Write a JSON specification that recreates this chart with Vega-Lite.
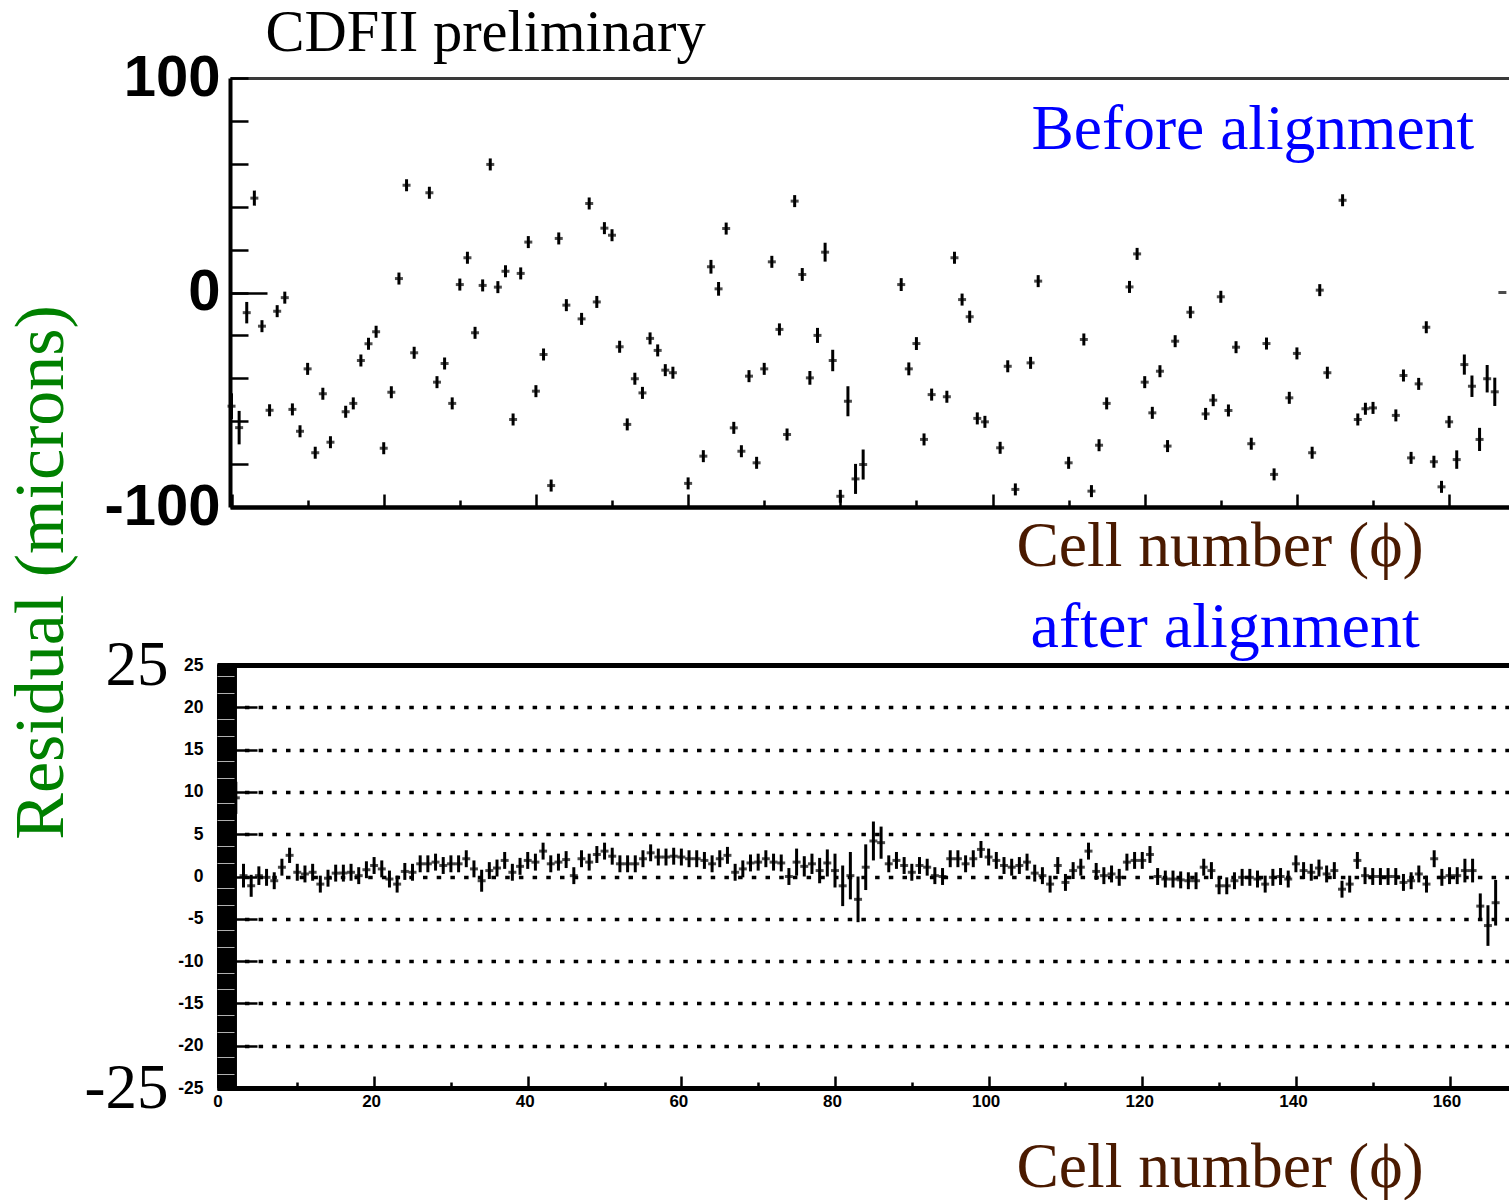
{
  "$schema": "https://vega.github.io/schema/vega-lite/v6.json",
  "width": 1292,
  "height": 1010,
  "autosize": "none",
  "padding": {"left": 217, "top": 78, "right": 0, "bottom": 112},
  "background": "white",
  "config": {
    "view": {"stroke": null},
    "axis": {"labelFont": "Liberation Sans", "labelFontWeight": "bold", "labelColor": "black", "domainColor": "black", "tickColor": "black", "grid": false, "titleColor": "black"}
  },
  "datasets": {
    "before": [{"cell":0,"res":-53,"err":6},{"cell":1,"res":-63,"err":7.8},{"cell":2,"res":-9.4,"err":5},{"cell":3,"res":44,"err":3.5},{"cell":4,"res":-15.7,"err":2.8},{"cell":5,"res":-54.9,"err":2.8},{"cell":6,"res":-8.7,"err":2.8},{"cell":7,"res":-2.4,"err":2.8},{"cell":8,"res":-54.5,"err":2.8},{"cell":9,"res":-64.7,"err":2.8},{"cell":10,"res":-35.6,"err":2.8},{"cell":11,"res":-74.7,"err":2.8},{"cell":12,"res":-47.2,"err":2.8},{"cell":13,"res":-69.8,"err":2.8},{"cell":15,"res":-55.6,"err":2.8},{"cell":16,"res":-51.7,"err":2.8},{"cell":17,"res":-31.7,"err":2.8},{"cell":18,"res":-23.9,"err":2.8},{"cell":19,"res":-18.3,"err":2.8},{"cell":20,"res":-72.6,"err":2.8},{"cell":21,"res":-46.5,"err":2.8},{"cell":22,"res":6.5,"err":2.8},{"cell":23,"res":50,"err":2.8},{"cell":24,"res":-28.1,"err":2.8},{"cell":26,"res":46.5,"err":2.8},{"cell":27,"res":-41.8,"err":2.8},{"cell":28,"res":-33.1,"err":2.8},{"cell":29,"res":-51.7,"err":2.8},{"cell":30,"res":3.7,"err":2.8},{"cell":31,"res":16.2,"err":2.8},{"cell":32,"res":-18.8,"err":2.8},{"cell":33,"res":3.3,"err":2.8},{"cell":34,"res":59.7,"err":2.8},{"cell":35,"res":2.5,"err":2.8},{"cell":36,"res":9.9,"err":2.8},{"cell":37,"res":-59.2,"err":2.8},{"cell":38,"res":8.9,"err":2.8},{"cell":39,"res":23.5,"err":2.8},{"cell":40,"res":-46,"err":2.8},{"cell":41,"res":-28.9,"err":2.8},{"cell":42,"res":-90,"err":2.8},{"cell":43,"res":25.2,"err":2.8},{"cell":44,"res":-5.9,"err":2.8},{"cell":46,"res":-12.3,"err":2.8},{"cell":47,"res":41.5,"err":2.8},{"cell":48,"res":-4.4,"err":2.8},{"cell":49,"res":30,"err":2.8},{"cell":50,"res":26.7,"err":2.8},{"cell":51,"res":-25.3,"err":2.8},{"cell":52,"res":-61.5,"err":2.8},{"cell":53,"res":-40.2,"err":2.8},{"cell":54,"res":-46.8,"err":2.8},{"cell":55,"res":-21.4,"err":2.8},{"cell":56,"res":-27,"err":2.8},{"cell":57,"res":-36.2,"err":2.8},{"cell":58,"res":-37.4,"err":2.8},{"cell":60,"res":-89,"err":2.8},{"cell":62,"res":-76.3,"err":2.8},{"cell":63,"res":12,"err":3.2},{"cell":64,"res":1.7,"err":3.2},{"cell":65,"res":29.8,"err":2.8},{"cell":66,"res":-63.1,"err":2.8},{"cell":67,"res":-74,"err":2.8},{"cell":68,"res":-39,"err":2.8},{"cell":69,"res":-79.4,"err":2.8},{"cell":70,"res":-35.6,"err":2.8},{"cell":71,"res":14.3,"err":2.8},{"cell":72,"res":-17.2,"err":2.8},{"cell":73,"res":-66.2,"err":2.8},{"cell":74,"res":42.6,"err":2.8},{"cell":75,"res":8.4,"err":3},{"cell":76,"res":-39.8,"err":3.2},{"cell":77,"res":-20,"err":3.5},{"cell":78,"res":18.8,"err":4.4},{"cell":79,"res":-31.7,"err":5},{"cell":80,"res":-95,"err":3},{"cell":81,"res":-50.7,"err":7},{"cell":82,"res":-86.9,"err":7},{"cell":83,"res":-80.2,"err":7},{"cell":88,"res":3.7,"err":3},{"cell":89,"res":-35.6,"err":3},{"cell":90,"res":-23.8,"err":3},{"cell":91,"res":-68.5,"err":2.8},{"cell":92,"res":-47.6,"err":2.8},{"cell":94,"res":-48.6,"err":2.8},{"cell":95,"res":16.2,"err":2.8},{"cell":96,"res":-3.3,"err":2.8},{"cell":97,"res":-11.3,"err":2.8},{"cell":98,"res":-58.7,"err":2.8},{"cell":99,"res":-60.3,"err":2.8},{"cell":101,"res":-72.4,"err":2.8},{"cell":102,"res":-34.4,"err":2.8},{"cell":103,"res":-91.8,"err":2.8},{"cell":105,"res":-32.8,"err":2.8},{"cell":106,"res":5.3,"err":2.8},{"cell":110,"res":-79.4,"err":2.8},{"cell":112,"res":-21.9,"err":2.8},{"cell":113,"res":-92.6,"err":2.8},{"cell":114,"res":-71.2,"err":2.8},{"cell":115,"res":-51.7,"err":2.8},{"cell":118,"res":2.6,"err":2.8},{"cell":119,"res":18,"err":2.8},{"cell":120,"res":-41.8,"err":2.8},{"cell":121,"res":-56.1,"err":2.8},{"cell":122,"res":-36.7,"err":2.8},{"cell":123,"res":-71.6,"err":2.8},{"cell":124,"res":-22.7,"err":2.8},{"cell":126,"res":-9.2,"err":2.8},{"cell":128,"res":-56.6,"err":2.8},{"cell":129,"res":-50.2,"err":2.8},{"cell":130,"res":-2,"err":2.8},{"cell":131,"res":-55,"err":2.8},{"cell":132,"res":-25.5,"err":2.8},{"cell":134,"res":-70.5,"err":2.8},{"cell":136,"res":-23.8,"err":2.8},{"cell":137,"res":-84.8,"err":2.8},{"cell":139,"res":-49.1,"err":2.8},{"cell":140,"res":-28.4,"err":2.8},{"cell":142,"res":-74.7,"err":2.8},{"cell":143,"res":1.1,"err":2.8},{"cell":144,"res":-37.4,"err":2.8},{"cell":146,"res":43,"err":2.8},{"cell":148,"res":-59.2,"err":2.8},{"cell":149,"res":-54.2,"err":2.8},{"cell":150,"res":-53.8,"err":2.8},{"cell":153,"res":-57.3,"err":2.8},{"cell":154,"res":-38.7,"err":2.8},{"cell":155,"res":-77.1,"err":2.8},{"cell":156,"res":-42.6,"err":2.8},{"cell":157,"res":-16.2,"err":2.8},{"cell":158,"res":-78.9,"err":2.8},{"cell":159,"res":-90.6,"err":2.8},{"cell":160,"res":-60.3,"err":2.8},{"cell":161,"res":-77.9,"err":4.3},{"cell":162,"res":-33.6,"err":4.7},{"cell":163,"res":-43.7,"err":5},{"cell":164,"res":-68.5,"err":5.4},{"cell":165,"res":-40.2,"err":6.4},{"cell":166,"res":-46.3,"err":6.6},{"cell":167,"res":0,"err":0}],
    "after": [{"cell":2,"res":9.3,"err":1.9},{"cell":3,"res":0.1,"err":1.4},{"cell":4,"res":-1.1,"err":1.3},{"cell":5,"res":0.1,"err":1.1},{"cell":6,"res":-0.1,"err":1},{"cell":7,"res":-0.5,"err":1},{"cell":8,"res":1.1,"err":1},{"cell":9,"res":2.5,"err":0.9},{"cell":10,"res":0.5,"err":1},{"cell":11,"res":0.3,"err":1},{"cell":12,"res":0.5,"err":1},{"cell":13,"res":-0.9,"err":1},{"cell":14,"res":-0.2,"err":1},{"cell":15,"res":0.4,"err":1},{"cell":16,"res":0.4,"err":1},{"cell":17,"res":0.5,"err":1},{"cell":18,"res":0.1,"err":1},{"cell":19,"res":0.8,"err":1},{"cell":20,"res":1.3,"err":1},{"cell":21,"res":0.9,"err":1},{"cell":22,"res":-0.3,"err":1},{"cell":23,"res":-0.9,"err":1},{"cell":24,"res":0.6,"err":1},{"cell":25,"res":0.5,"err":1},{"cell":26,"res":1.5,"err":1},{"cell":27,"res":1.5,"err":1},{"cell":28,"res":1.7,"err":1},{"cell":29,"res":1.3,"err":1},{"cell":30,"res":1.5,"err":1},{"cell":31,"res":1.5,"err":1},{"cell":32,"res":2.1,"err":1},{"cell":33,"res":0.9,"err":1},{"cell":34,"res":-0.5,"err":1.3},{"cell":35,"res":0.7,"err":1},{"cell":36,"res":1,"err":1},{"cell":37,"res":1.9,"err":1},{"cell":38,"res":0.5,"err":1},{"cell":39,"res":1.2,"err":1},{"cell":40,"res":1.9,"err":1},{"cell":41,"res":1.7,"err":1},{"cell":42,"res":3,"err":1},{"cell":43,"res":1.5,"err":1},{"cell":44,"res":1.7,"err":1},{"cell":45,"res":2,"err":1},{"cell":46,"res":0.1,"err":1},{"cell":47,"res":2.1,"err":1},{"cell":48,"res":1.7,"err":1},{"cell":49,"res":2.6,"err":1},{"cell":50,"res":3,"err":1},{"cell":51,"res":2.4,"err":1},{"cell":52,"res":1.5,"err":1},{"cell":53,"res":1.5,"err":1},{"cell":54,"res":1.5,"err":1},{"cell":55,"res":2.1,"err":1},{"cell":56,"res":2.8,"err":1},{"cell":57,"res":2.3,"err":1},{"cell":58,"res":2.3,"err":1},{"cell":59,"res":2.4,"err":1},{"cell":60,"res":2.3,"err":1},{"cell":61,"res":2.1,"err":1},{"cell":62,"res":2.1,"err":1},{"cell":63,"res":1.9,"err":1},{"cell":64,"res":1.5,"err":1},{"cell":65,"res":2.1,"err":1},{"cell":66,"res":2.5,"err":1},{"cell":67,"res":0.5,"err":1},{"cell":68,"res":0.9,"err":1},{"cell":69,"res":1.6,"err":1},{"cell":70,"res":1.7,"err":1},{"cell":71,"res":2.1,"err":1},{"cell":72,"res":1.7,"err":1},{"cell":73,"res":1.6,"err":1},{"cell":74,"res":0,"err":1},{"cell":75,"res":1.7,"err":1.6},{"cell":76,"res":1.2,"err":1.2},{"cell":77,"res":1.5,"err":1.2},{"cell":78,"res":0.7,"err":1.5},{"cell":79,"res":1.6,"err":1.6},{"cell":80,"res":0.7,"err":2},{"cell":81,"res":-1.1,"err":2.4},{"cell":82,"res":0.1,"err":2.8},{"cell":83,"res":-2.7,"err":2.7},{"cell":84,"res":1.1,"err":2.7},{"cell":85,"res":4.2,"err":2.3},{"cell":86,"res":4,"err":1.9},{"cell":87,"res":1.5,"err":1},{"cell":88,"res":1.9,"err":1},{"cell":89,"res":1.3,"err":1},{"cell":90,"res":0.5,"err":1},{"cell":91,"res":1.3,"err":1},{"cell":92,"res":1.1,"err":1},{"cell":93,"res":0.1,"err":1},{"cell":94,"res":0,"err":1},{"cell":95,"res":2.1,"err":1},{"cell":96,"res":2.1,"err":1},{"cell":97,"res":1.5,"err":1},{"cell":98,"res":2.1,"err":1},{"cell":99,"res":3.2,"err":1},{"cell":100,"res":2.3,"err":1},{"cell":101,"res":1.9,"err":1},{"cell":102,"res":1.3,"err":1},{"cell":103,"res":1.1,"err":1},{"cell":104,"res":1.3,"err":1},{"cell":105,"res":1.7,"err":1},{"cell":106,"res":0.4,"err":1},{"cell":107,"res":0.1,"err":1},{"cell":108,"res":-0.9,"err":1},{"cell":109,"res":1.3,"err":1},{"cell":110,"res":-0.7,"err":1},{"cell":111,"res":0.7,"err":1},{"cell":112,"res":1.1,"err":1},{"cell":113,"res":3,"err":1},{"cell":114,"res":0.6,"err":1},{"cell":115,"res":0.1,"err":1},{"cell":116,"res":0.3,"err":1},{"cell":117,"res":-0.1,"err":1},{"cell":118,"res":1.7,"err":1},{"cell":119,"res":1.9,"err":1},{"cell":120,"res":1.9,"err":1},{"cell":121,"res":2.6,"err":1},{"cell":122,"res":0,"err":1},{"cell":123,"res":-0.3,"err":1},{"cell":124,"res":-0.3,"err":1},{"cell":125,"res":-0.4,"err":1},{"cell":126,"res":-0.5,"err":1},{"cell":127,"res":-0.5,"err":1},{"cell":128,"res":1.1,"err":1},{"cell":129,"res":0.7,"err":1},{"cell":130,"res":-1.1,"err":1},{"cell":131,"res":-1.1,"err":1},{"cell":132,"res":-0.5,"err":1},{"cell":133,"res":-0.1,"err":1},{"cell":134,"res":-0.1,"err":1},{"cell":135,"res":-0.3,"err":1},{"cell":136,"res":-0.9,"err":1},{"cell":137,"res":-0.1,"err":1},{"cell":138,"res":0,"err":1},{"cell":139,"res":-0.3,"err":1},{"cell":140,"res":1.5,"err":1},{"cell":141,"res":0.7,"err":1},{"cell":142,"res":0.5,"err":1},{"cell":143,"res":1,"err":1},{"cell":144,"res":0.3,"err":1},{"cell":145,"res":0.7,"err":1},{"cell":146,"res":-1.5,"err":1},{"cell":147,"res":-0.9,"err":1},{"cell":148,"res":1.9,"err":1},{"cell":149,"res":0.1,"err":1},{"cell":150,"res":0,"err":1},{"cell":151,"res":0,"err":1},{"cell":152,"res":0,"err":1},{"cell":153,"res":0,"err":1},{"cell":154,"res":-0.7,"err":1},{"cell":155,"res":-0.5,"err":1},{"cell":156,"res":0.3,"err":1},{"cell":157,"res":-0.9,"err":1},{"cell":158,"res":2.1,"err":1},{"cell":159,"res":-0.1,"err":1},{"cell":160,"res":0.1,"err":1},{"cell":161,"res":0.1,"err":1},{"cell":162,"res":0.7,"err":1.4},{"cell":163,"res":0.7,"err":1.4},{"cell":164,"res":-3.5,"err":1.5},{"cell":165,"res":-5.8,"err":2.4},{"cell":166,"res":-3.1,"err":2.7}]
  },
  "layer": [
    {
      "data": {"name": "before"},
      "layer": [
        {
          "mark": {"type": "errorbar", "color": "black", "thickness": 3},
          "encoding": {
            "x": {"field": "cell", "type": "quantitative",
              "scale": {"domain": [-0.2, 168], "range": [13, 1293], "nice": false, "zero": false},
              "axis": {"orient": "bottom", "offset": -581, "values": [0,5,10,15,20,25,30,35,40,45,50,55,60,65,70,75,80,85,90,95,100,105,110,115,120,125,130,135,140,145,150,155,160,165],
                "labels": false, "tickSize": {"condition": {"test": "datum.value % 20 === 0", "value": -13}, "value": -7}, "tickWidth": 2.5, "domainWidth": 4.5,
                "title": "Cell number (ϕ)", "titleFont": "Liberation Serif", "titleFontSize": 63.5, "titleFontWeight": "normal", "titleColor": "#4a1a00",
                "titleX": 799, "titleY": 58, "titleAlign": "left", "titleBaseline": "alphabetic", "titleAngle": 0}},
            "y": {"field": "res", "type": "quantitative",
              "scale": {"domain": [-100, 100], "range": [429, 0], "nice": false, "zero": false},
              "axis": {"orient": "left", "offset": -13, "values": [-100,-80,-60,-40,-20,0,20,40,60,80,100],
                "labelExpr": "datum.value === 100 ? '100' : datum.value === 0 ? '0' : datum.value === -100 ? '-100' : ''",
                "labelFontSize": 58, "labelPadding": 28, "labelBaseline": "middle", "tickSize": -18, "tickWidth": 2.5, "domainWidth": 4,
                "title": "Before alignment", "titleColor": "#0000ff", "titleFont": "Liberation Serif", "titleFontSize": 63.5, "titleFontWeight": "normal",
                "titleAngle": 0, "titleX": 801, "titleY": 70, "titleAlign": "left", "titleBaseline": "alphabetic"}},
            "yError": {"field": "err"}
          }
        },
        {
          "mark": {"type": "tick", "orient": "horizontal", "size": 8, "thickness": 3, "color": "black"},
          "encoding": {
            "x": {"field": "cell", "type": "quantitative"},
            "y": {"field": "res", "type": "quantitative"}
          }
        }
      ]
    },
    {
      "data": {"name": "before"},
      "mark": {"type": "point", "opacity": 0},
      "encoding": {
        "x": {"field": "cell", "type": "quantitative",
          "scale": {"domain": [-0.2, 168], "range": [13, 1293], "nice": false, "zero": false},
          "axis": {"orient": "top", "ticks": false, "labels": false, "domainColor": "#3a3a3a", "domainWidth": 3,
            "title": "CDFII preliminary", "titleFont": "Liberation Serif", "titleFontSize": 58.5, "titleFontWeight": "normal", "titleColor": "black",
            "titleX": 48, "titleY": -28, "titleAlign": "left", "titleBaseline": "alphabetic", "titleAngle": 0}},
        "y": {"field": "res", "type": "quantitative",
          "scale": {"domain": [-100, 100], "range": [429, 0], "nice": false, "zero": false},
          "axis": {"orient": "left", "offset": -13, "values": [0], "labels": false, "domain": false, "tickSize": -37, "tickWidth": 2.5, "title": null}}
      }
    },
    {
      "layer": [
        {
          "data": {"values": [{"part": "band"}]},
          "mark": {"type": "rect", "color": "black"},
          "encoding": {
            "x": {"datum": -0.45, "type": "quantitative"},
            "x2": {"datum": 2.15},
            "y": {"datum": -25, "type": "quantitative"},
            "y2": {"datum": 25}
          }
        },
        {
          "data": {"name": "after"},
          "mark": {"type": "errorbar", "color": "black", "thickness": 3},
          "encoding": {
            "x": {"field": "cell", "type": "quantitative",
              "scale": {"domain": [-0.45, 168], "range": [0, 1294], "nice": false, "zero": false},
              "axis": {"orient": "bottom", "values": [0,5,10,15,20,25,30,35,40,45,50,55,60,65,70,75,80,85,90,95,100,105,110,115,120,125,130,135,140,145,150,155,160,165],
                "labelExpr": "datum.value % 20 === 0 ? datum.label : ''", "labelFontSize": 17, "labelPadding": 17, "labelBaseline": "top", "labelOffset": -3,
                "tickSize": {"condition": {"test": "datum.value % 20 === 0", "value": -12}, "value": -6}, "tickWidth": 2.5, "domainWidth": 5,
                "title": "Cell number (ϕ)", "titleFont": "Liberation Serif", "titleFontSize": 63.5, "titleFontWeight": "normal", "titleColor": "#4a1a00",
                "titleX": 799, "titleY": 98, "titleAlign": "left", "titleBaseline": "alphabetic", "titleAngle": 0}},
            "y": {"field": "res", "type": "quantitative",
              "scale": {"domain": [-25, 25], "range": [1010, 587], "nice": false, "zero": false},
              "axis": {"orient": "left", "values": [-25,-20,-15,-10,-5,0,5,10,15,20,25],
                "labelExpr": "(datum.value < 0 ? '-' : '') + abs(datum.value)", "labelFontSize": 17.5, "labelPadding": 54, "labelBaseline": "middle",
                "tickSize": -40, "tickWidth": 2.5, "domain": false,
                "grid": true, "gridColor": "black", "gridDash": [4.5, 9.2], "gridWidth": 3.5,
                "title": "Residual (microns)", "titleColor": "#008000", "titleFont": "Liberation Serif", "titleFontSize": 70, "titleFontWeight": "normal",
                "titleAngle": -90, "titleX": -155, "titleY": 494, "titleAlign": "center", "titleBaseline": "alphabetic"}},
            "yError": {"field": "err"}
          }
        },
        {
          "data": {"name": "after"},
          "mark": {"type": "tick", "orient": "horizontal", "size": 8, "thickness": 3, "color": "black"},
          "encoding": {
            "x": {"field": "cell", "type": "quantitative"},
            "y": {"field": "res", "type": "quantitative"}
          }
        }
      ]
    },
    {
      "data": {"name": "after"},
      "mark": {"type": "point", "opacity": 0},
      "encoding": {
        "x": {"field": "cell", "type": "quantitative",
          "scale": {"domain": [-0.45, 168], "range": [0, 1294], "nice": false, "zero": false},
          "axis": {"orient": "top", "offset": -587, "ticks": false, "labels": false, "domainColor": "black", "domainWidth": 5,
            "title": "after alignment", "titleFont": "Liberation Serif", "titleFontSize": 64, "titleFontWeight": "normal", "titleColor": "#0000ff",
            "titleX": 813, "titleY": -19, "titleAlign": "left", "titleBaseline": "alphabetic", "titleAngle": 0}},
        "y": {"field": "res", "type": "quantitative",
          "scale": {"domain": [-25, 25], "range": [1010, 587], "nice": false, "zero": false},
          "axis": {"orient": "left", "values": [25, -25], "labelExpr": "(datum.value < 0 ? '-' : '') + abs(datum.value)",
            "labelFont": "Liberation Serif", "labelFontSize": 63, "labelFontWeight": "normal", "labelPadding": 49, "labelBaseline": "middle",
            "ticks": false, "domain": false, "title": null}}
      }
    },
    {
      "data": {"name": "after"},
      "mark": {"type": "point", "opacity": 0},
      "encoding": {
        "x": {"field": "cell", "type": "quantitative",
          "scale": {"domain": [-0.45, 168], "range": [0, 1294], "nice": false, "zero": false},
          "axis": null},
        "y": {"field": "res", "type": "quantitative",
          "scale": {"domain": [-25, 25], "range": [1010, 587], "nice": false, "zero": false},
          "axis": {"orient": "left", "values": [-23,-21,-18,-16,-13,-11,-8,-6,-3,-1,2,4,7,9,12,14,17,19,22,24],
            "labels": false, "domain": false, "tickSize": -17, "tickWidth": 1, "tickColor": "#b0b0b0", "tickOffset": 3, "zindex": 1, "title": null}}
      }
    }
  ],
  "resolve": {"scale": {"x": "independent", "y": "independent"}}
}
